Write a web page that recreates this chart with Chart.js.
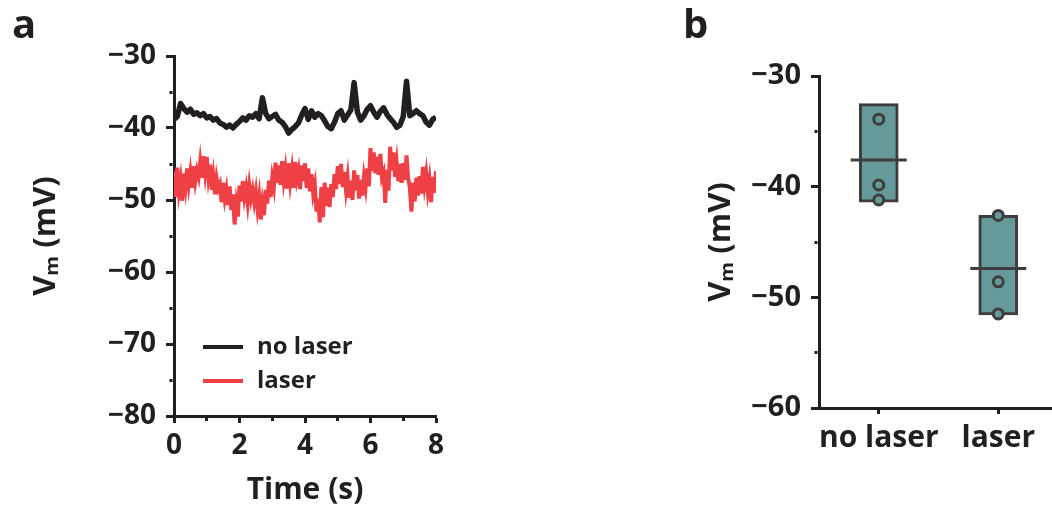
<!DOCTYPE html>
<html>
<head>
<meta charset="utf-8">
<script src="https://cdn.jsdelivr.net/npm/chart.js@4/dist/chart.umd.min.js"></script>
<style>
  html, body { margin: 0; padding: 0; background: #fff; overflow: hidden; }
  #traceChart { position: absolute; left: 0; top: 0; }
  #boxChart { position: absolute; left: 675px; top: 0; }
</style>
</head>
<body>
<canvas id="traceChart" width="470" height="510"></canvas>
<canvas id="boxChart" width="414" height="510"></canvas>
<script>
// panel a: membrane potential traces (mV)
const blackStep = 0.1;   // s between samples, no laser trace
const redStep = 0.05;    // s between samples, laser trace
const noLaserTrace = [
  -38.8, -38.4, -36.6, -37.3, -37.8, -37.4, -38.1, -37.9, -38.3, -38.0,
  -38.6, -38.4, -38.9, -38.7, -39.3, -39.5, -39.9, -39.6, -40.0, -39.5,
  -39.1, -38.6, -38.9, -38.3, -38.5, -38.0, -38.7, -35.8, -38.0, -38.7,
  -38.4, -38.1, -38.9, -39.2, -39.8, -40.7, -40.2, -39.8, -39.3, -38.2,
  -37.3, -38.8, -37.6, -38.5, -38.0, -38.3, -39.0, -39.8, -40.1, -39.2,
  -38.0, -37.6, -38.9, -38.2, -37.5, -33.7, -37.8, -38.9, -38.3, -37.4,
  -36.9, -37.8, -38.5, -37.7, -37.2, -38.1, -38.7, -39.2, -39.9, -39.6,
  -38.4, -33.5, -38.3, -38.0, -37.6, -38.0, -38.3, -39.2, -39.6, -38.8,
  -38.5
];
const laserTrace = [
  -46.0, -49.6, -45.5, -48.8, -47.2, -50.1, -46.3, -48.2, -45.6, -47.9,
  -46.1, -48.3, -45.3, -47.4, -45.9, -46.8, -44.7, -46.9, -43.9, -46.2,
  -44.0, -46.8, -45.1, -48.6, -46.7, -49.2, -47.0, -48.4, -47.8, -50.3,
  -47.6, -49.8, -48.5, -50.7, -48.1, -51.4, -49.2, -53.4, -50.6, -52.3,
  -48.0, -50.2, -47.4, -49.6, -48.3, -50.4, -48.0, -49.8, -48.6, -50.3,
  -48.8, -51.2, -49.5, -52.7, -50.4, -52.1, -48.6, -50.5, -47.3, -49.6,
  -46.9, -48.2, -44.8, -47.6, -45.2, -47.9, -44.6, -47.3, -45.7, -48.4,
  -44.9, -47.6, -45.8, -48.3, -44.7, -47.1, -45.9, -48.5, -45.2, -47.4,
  -44.9, -48.3, -45.6, -48.8, -46.4, -49.1, -47.9, -51.6, -49.8, -53.1,
  -48.2, -52.4, -47.6, -50.8, -48.3, -51.0, -47.8, -49.6, -46.4, -48.5,
  -45.3, -47.8, -45.0, -48.2, -46.1, -48.6, -46.8, -49.7, -47.3, -50.0,
  -45.9, -48.7, -46.5, -49.8, -47.2, -49.4, -46.8, -48.3, -45.6, -48.1,
  -42.8, -46.0, -43.4, -46.3, -44.0, -46.5, -43.6, -46.9, -46.2, -50.4,
  -45.8, -48.7, -42.6, -45.9, -43.4, -46.8, -44.8, -47.4, -45.0, -47.6,
  -44.9, -47.2, -43.8, -47.0, -48.2, -51.6, -47.6, -50.2, -46.9, -49.4,
  -46.7, -49.1, -45.4, -47.9, -46.3, -48.8, -47.2, -50.3, -46.8, -49.0,
  -46.0
];
const traceLabels = ['no laser', 'laser'];

// panel b: per-cell Vm and group range / mean
const groups = ['no laser', 'laser'];
const rangeLow = [-41.4, -51.6];
const rangeHigh = [-32.5, -42.6];
const groupMean = [-37.6, -47.4];
const noLaserCells = [-33.9, -39.85, -41.2];
const laserCells = [-42.6, -48.6, -51.5];

const INK = '#231f20';
const RED = '#ef4046';
const TEAL = '#669a9a';
const GREY = '#3d3d3d';
const FONT = '"Open Sans", "DejaVu Sans", sans-serif';

Chart.defaults.font.family = FONT;
Chart.defaults.font.weight = 'bold';
Chart.defaults.color = INK;

const fmt = v => (v < 0 ? '\u2212' + Math.abs(v) : String(v));

// legend drawn inside the plot, lower left
const traceLegend = {
  id: 'traceLegend',
  afterDatasetsDraw(chart) {
    const { ctx, chartArea } = chart;
    ctx.save();
    ctx.font = 'bold 24px ' + FONT;
    ctx.textBaseline = 'middle';
    chart.data.datasets.forEach((ds, i) => {
      const y = chartArea.bottom - 69 + i * 34;
      const x = chartArea.left + 29;
      ctx.strokeStyle = ds.borderColor;
      ctx.lineWidth = 4;
      ctx.beginPath();
      ctx.moveTo(x, y);
      ctx.lineTo(x + 40, y);
      ctx.stroke();
      ctx.fillStyle = INK;
      ctx.fillText(ds.label, x + 54, y);
    });
    ctx.restore();
  }
};

new Chart(document.getElementById('traceChart'), {
  type: 'line',
  data: {
    datasets: [
      {
        label: traceLabels[0],
        data: noLaserTrace.map((v, i) => ({ x: i * blackStep, y: v })),
        borderColor: INK,
        borderWidth: 5.5,
        borderJoinStyle: 'round',
        pointRadius: 0
      },
      {
        label: traceLabels[1],
        data: laserTrace.map((v, i) => ({ x: i * redStep, y: v })),
        borderColor: RED,
        borderWidth: 4,
        pointRadius: 0
      }
    ]
  },
  options: {
    responsive: false,
    animation: false,
    events: [],
    layout: { padding: { left: 12, right: 34, top: 0, bottom: 0 } },
    plugins: {
      legend: { display: false },
      tooltip: { enabled: false },
      title: {
        display: true, text: 'a', align: 'start', color: INK,
        font: { size: 40, weight: 'bold' }, padding: { top: 3, bottom: 5 }
      }
    },
    scales: {
      x: {
        type: 'linear', min: 0, max: 8,
        ticks: {
          stepSize: 1, autoSkip: false, maxRotation: 0, padding: 6,
          font: { size: 28 },
          callback: v => (v % 2 === 0 ? fmt(v) : '')
        },
        grid: {
          drawOnChartArea: false, tickLength: 7, tickWidth: 3, tickColor: INK,
          tickBorderDash: c => (c.tick && c.tick.value % 2 ? [3, 30] : [])
        },
        border: { color: INK, width: 3 },
        title: { display: true, text: 'Time (s)', font: { size: 30 }, padding: { top: 0, bottom: 2 } },
        afterFit: s => { s.height = 94; }
      },
      y: {
        min: -80, max: -30,
        ticks: {
          stepSize: 5, autoSkip: false, padding: 10,
          font: { size: 28 },
          callback: v => (v % 10 === 0 ? fmt(v) : '')
        },
        grid: {
          drawOnChartArea: false, tickLength: 8, tickWidth: 3, tickColor: INK,
          tickBorderDash: c => (c.tick && c.tick.value % 10 ? [0, 3.5, 3, 30] : [])
        },
        border: { color: INK, width: 3 },
        title: { display: true, text: 'V\u2098 (mV)', font: { size: 31 }, padding: { top: 16, bottom: 0 } },
        afterFit: s => { s.width = 162; }
      }
    }
  },
  plugins: [traceLegend]
});

new Chart(document.getElementById('boxChart'), {
  type: 'bar',
  data: {
    labels: groups,
    datasets: [
      {
        type: 'line', label: 'no laser cells', showLine: false, order: 0,
        data: noLaserCells.map(v => ({ x: groups[0], y: v })),
        pointStyle: 'circle', pointRadius: 5, pointBorderWidth: 3,
        pointBackgroundColor: TEAL, pointBorderColor: GREY
      },
      {
        type: 'line', label: 'laser cells', showLine: false, order: 0,
        data: laserCells.map(v => ({ x: groups[1], y: v })),
        pointStyle: 'circle', pointRadius: 5, pointBorderWidth: 3,
        pointBackgroundColor: TEAL, pointBorderColor: GREY
      },
      {
        type: 'line', label: 'mean', showLine: false, order: 1,
        data: groupMean.map((v, i) => ({ x: groups[i], y: v })),
        pointStyle: 'line', pointRadius: 28, pointBorderWidth: 3,
        pointBorderColor: GREY, borderColor: GREY
      },
      {
        label: 'range', order: 2,
        data: rangeLow.map((lo, i) => [lo, rangeHigh[i]]),
        backgroundColor: TEAL, borderColor: GREY, borderWidth: 3,
        borderSkipped: false, barThickness: 39
      }
    ]
  },
  options: {
    responsive: false,
    animation: false,
    events: [],
    layout: { padding: { left: 8, right: 3, top: 0, bottom: 0 } },
    plugins: {
      legend: { display: false },
      tooltip: { enabled: false },
      title: {
        display: true, text: 'b', align: 'start', color: INK,
        font: { size: 40, weight: 'bold' }, padding: { top: 3, bottom: 25 }
      }
    },
    scales: {
      x: {
        type: 'category', offset: true,
        ticks: { font: { size: 30 }, padding: 6, maxRotation: 0, autoSkip: false },
        grid: { drawOnChartArea: false, offset: false, tickLength: 6, tickWidth: 3, tickColor: INK },
        border: { color: INK, width: 3 },
        afterFit: s => { s.height = 102; s.paddingLeft = 0; s.paddingRight = 0; }
      },
      y: {
        min: -60, max: -30,
        ticks: {
          stepSize: 5, autoSkip: false, padding: 10,
          font: { size: 29 },
          callback: v => (v % 10 === 0 ? fmt(v) : '')
        },
        grid: {
          drawOnChartArea: false, tickLength: 8, tickWidth: 3, tickColor: INK,
          tickBorderDash: c => (c.tick && c.tick.value % 10 ? [0, 3.5, 3, 30] : [])
        },
        border: { color: INK, width: 3 },
        title: { display: true, text: 'V\u2098 (mV)', font: { size: 31 }, padding: { top: 20, bottom: 0 } },
        afterFit: s => { s.width = 136; }
      }
    }
  }
});
</script>
</body>
</html>
